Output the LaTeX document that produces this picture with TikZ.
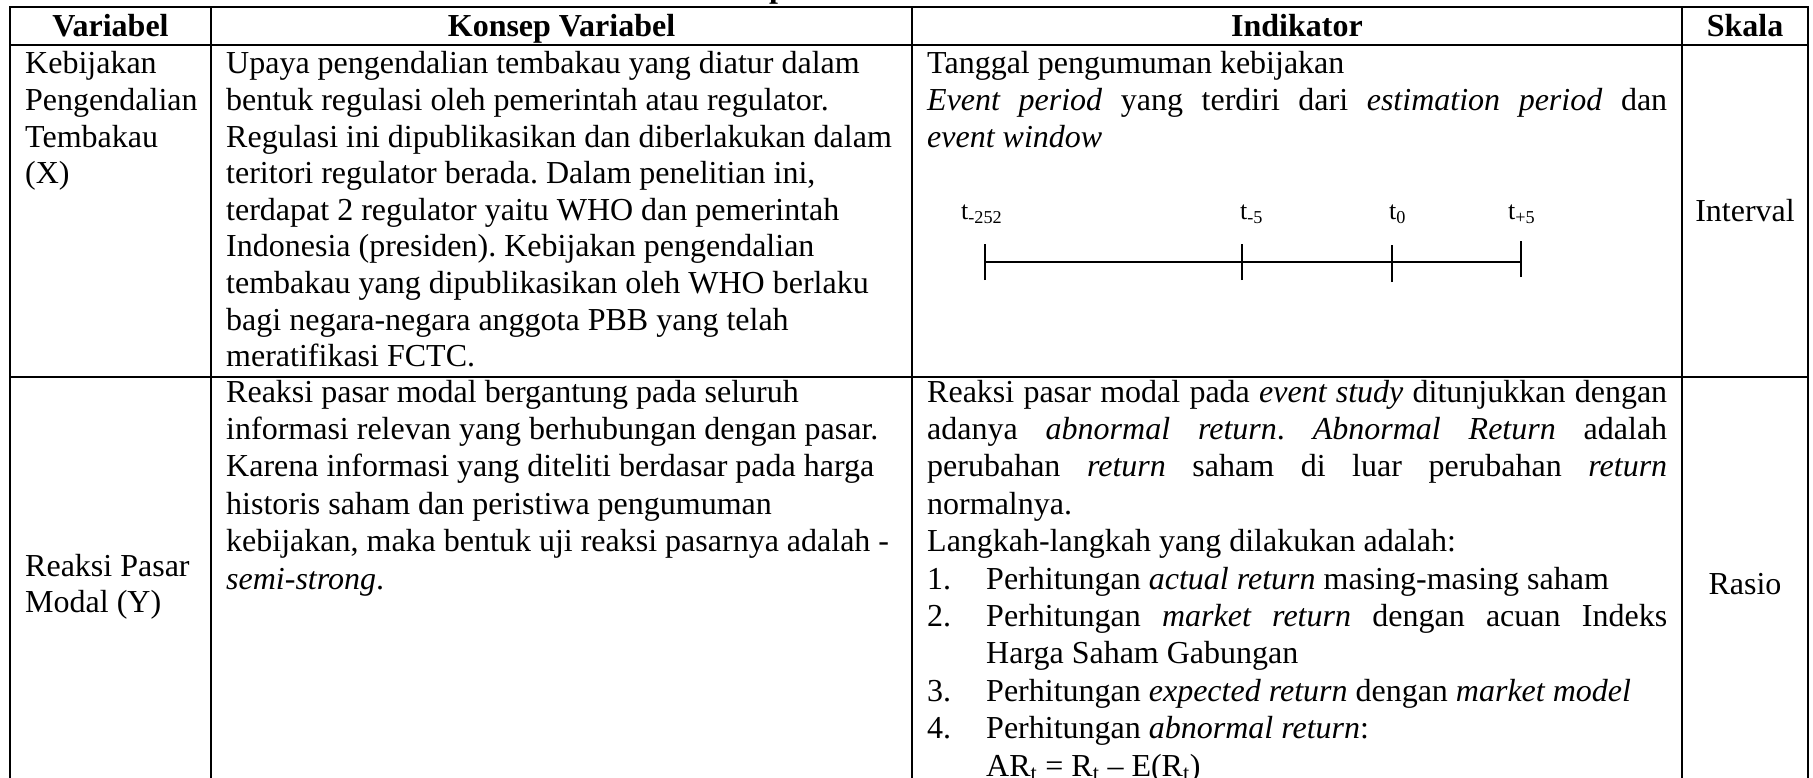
\documentclass[tikz,border=0pt]{standalone}
\usepackage{fontspec}
\setmainfont{Liberation Serif}
\frenchspacing
\begin{document}
\begin{tikzpicture}[x=1pt,y=-1pt,
  gridline/.style={line width=2.4pt, line cap=rect},
  body/.style={inner sep=0pt, font=\fontsize{32}{36.6}\selectfont},
  head/.style={inner sep=0pt, font=\fontsize{32}{36.6}\selectfont\bfseries},
  tlabel/.style={inner sep=0pt, font=\fontsize{26}{30}\selectfont},
  tickline/.style={line width=1.8pt},
  axisline/.style={line width=2pt}]
\clip (0,0) rectangle (1813,778);
\fill[white] (0,0) rectangle (1813,778);

% ---- caption fragment above the table ----
\node[head, anchor=base west] (cap) at (769,-2) {p};

% ---- grid ----
\draw[gridline] (10,7) -- (1808,7);
\draw[gridline] (10,45) -- (1808,45);
\draw[gridline] (10,377) -- (1808,377);
\foreach \x in {10,211,912,1682,1808}
  \draw[gridline] (\x,7) -- (\x,790);

% ---- header ----
\node[head, anchor=base] (hv) at (110.5,37) {Variabel};
\node[head, anchor=base] (hk) at (561.5,37) {Konsep Variabel};
\node[head, anchor=base] (hi) at (1297,37) {Indikator};
\node[head, anchor=base] (hs) at (1745,37) {Skala};

% ---- row 1 ----
\foreach \s [count=\i from 0] in {Kebijakan, Pengendalian, Tembakau, (X)}
  \node[body, anchor=base west] (va-\i) at (25,74+36.6*\i) {\s};

\foreach \s [count=\i from 0] in {
  {Upaya pengendalian tembakau yang diatur dalam},
  {bentuk regulasi oleh pemerintah atau regulator.},
  {Regulasi ini dipublikasikan dan diberlakukan dalam},
  {teritori regulator berada. Dalam penelitian ini,},
  {terdapat 2 regulator yaitu WHO dan pemerintah},
  {Indonesia (presiden). Kebijakan pengendalian},
  {tembakau yang dipublikasikan oleh WHO berlaku},
  {bagi negara-negara anggota PBB yang telah},
  {meratifikasi FCTC.}}
  \node[body, anchor=base west] (ka-\i) at (226,74+36.6*\i) {\s};

\node[body, anchor=base west] (ia-0) at (927,74) {Tanggal pengumuman kebijakan};
\node[body, anchor=base west] (ia-1) at (927,110.6) {\makebox[740pt][s]{\textit{Event period} yang terdiri dari \textit{estimation period} dan}};
\node[body, anchor=base west] (ia-2) at (927,147.2) {\textit{event window}};

% timeline
\node[tlabel, anchor=base west] (t1) at (961,220) {t\textsubscript{-252}};
\node[tlabel, anchor=base west] (t2) at (1240,220) {t\textsubscript{-5}};
\node[tlabel, anchor=base west] (t3) at (1389,220) {t\textsubscript{0}};
\node[tlabel, anchor=base west] (t4) at (1508,220) {t\textsubscript{+5}};
\coordinate (p1) at (985,262);
\coordinate (p2) at (1242,262);
\coordinate (p3) at (1392,262);
\coordinate (p4) at (1521,262);
\draw[axisline] (p1) -- (p4);
\draw[tickline] ([yshift=-18pt]p1) -- ([yshift=18pt]p1);
\draw[tickline] ([yshift=-18pt]p2) -- ([yshift=18pt]p2);
\draw[tickline] ([yshift=-20pt]p3) -- ([yshift=17pt]p3);
\draw[tickline] ([yshift=-15pt]p4) -- ([yshift=21pt]p4);

\node[body, anchor=base] (sa) at (1745,222) {Interval};

% ---- row 2 ----
\node[body, anchor=base west] (vb-0) at (25,576) {Reaksi Pasar};
\node[body, anchor=base west] (vb-1) at (25,612.6) {Modal (Y)};

\foreach \s [count=\i from 0] in {
  {Reaksi pasar modal bergantung pada seluruh},
  {informasi relevan yang berhubungan dengan pasar.},
  {Karena informasi yang diteliti berdasar pada harga},
  {historis saham dan peristiwa pengumuman},
  {kebijakan, maka bentuk uji reaksi pasarnya adalah -},
  {\textit{semi-strong}.}}
  \node[body, anchor=base west] (kb-\i) at (226,402+37.4*\i) {\s};

\node[body, anchor=base west] (ib-0) at (927,402) {\makebox[740pt][s]{Reaksi pasar modal pada \textit{event study} ditunjukkan dengan}};
\node[body, anchor=base west] (ib-1) at (927,439.4) {\makebox[740pt][s]{adanya \textit{abnormal return}. \textit{Abnormal Return} adalah}};
\node[body, anchor=base west] (ib-2) at (927,476.8) {\makebox[740pt][s]{perubahan \textit{return} saham di luar perubahan \textit{return}}};
\node[body, anchor=base west] (ib-3) at (927,514.2) {normalnya.};
\node[body, anchor=base west] (ib-4) at (927,551.6) {Langkah-langkah yang dilakukan adalah:};
\node[body, anchor=base west] (n1) at (927,589) {1.};
\node[body, anchor=base west] (ib-5) at (986,589) {Perhitungan \textit{actual return} masing-masing saham};
\node[body, anchor=base west] (n2) at (927,626.4) {2.};
\node[body, anchor=base west] (ib-6) at (986,626.4) {\makebox[681pt][s]{Perhitungan \textit{market return} dengan acuan Indeks}};
\node[body, anchor=base west] (ib-7) at (986,663.8) {Harga Saham Gabungan};
\node[body, anchor=base west] (n3) at (927,701.2) {3.};
\node[body, anchor=base west] (ib-8) at (986,701.2) {Perhitungan \textit{expected return} dengan \textit{market model}};
\node[body, anchor=base west] (n4) at (927,738.6) {4.};
\node[body, anchor=base west] (ib-9) at (986,738.6) {Perhitungan \textit{abnormal return}:};
\node[body, anchor=base west] (ib-10) at (986,776) {AR\textsubscript{t} = R\textsubscript{t} – E(R\textsubscript{t})};

\node[body, anchor=base] (sb) at (1745,594) {Rasio};
\end{tikzpicture}
\end{document}
